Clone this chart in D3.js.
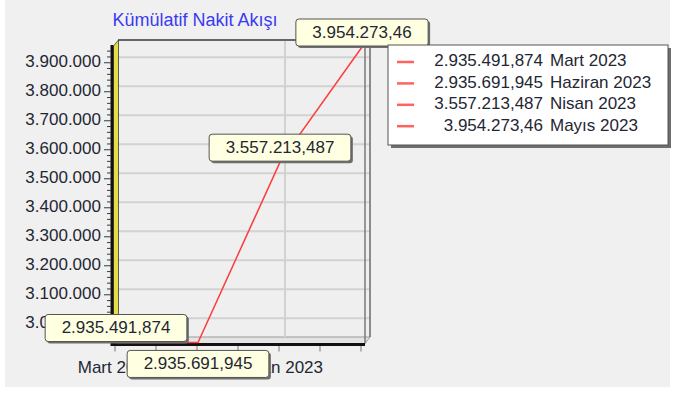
<!DOCTYPE html>
<html>
<head>
<meta charset="utf-8">
<script src="https://cdn.jsdelivr.net/npm/d3@7"></script>
<style>
  html, body { margin: 0; padding: 0; background: #ffffff; }
  svg { display: block; font-family: "Liberation Sans", Arial, sans-serif; }
</style>
</head>
<body>
<svg id="chart" width="674" height="394"></svg>
<script>
// Cumulative cash flow by month
const title = "Kümülatif Nakit Akışı";
const categories = ["Mart 2023", "Haziran 2023", "Nisan 2023", "Mayıs 2023"];
const values = [2935491.874, 2935691.945, 3557213.487, 3954273.46];
const yTicks = [3000000, 3100000, 3200000, 3300000, 3400000, 3500000, 3600000, 3700000, 3800000, 3900000];

// Turkish number formatting: "." for thousands, "," for decimals
const tr = d3.formatLocale({ decimal: ",", thousands: ".", grouping: [3], currency: ["", " ₺"] });
const fmtValue = tr.format(",.3~f");
const fmtTick = tr.format(",.0f");

const svg = d3.select("#chart");
const FONT = 17;
const TEXT = "#1f2733";
const LINE = "#ff3b3b";

// 3D depth offset of the back wall relative to the front plane
const DX = 5, DY = -5.5;

// front-plane scales
const x = d3.scalePoint().domain(categories).range([116, 362]);
const y = d3.scaleLinear().domain(d3.extent(values)).range([342.5, 47]);

const frontL = x.range()[0] - 3, frontR = x.range()[1] + 3;
const frontB = y.range()[0], frontT = y.range()[1];
const backL = frontL + DX, backR = frontR + DX;
const backT = frontT + DY - 1.5, backB = frontB + DY;

// panel background
svg.append("rect").attr("x", 5).attr("y", 0).attr("width", 665).attr("height", 387).attr("fill", "#f0f0f0");

// back wall
svg.append("rect").attr("x", backL).attr("y", backT).attr("width", backR - backL).attr("height", backB - backT)
  .attr("fill", "#efefef");

// floor
svg.append("polygon")
  .attr("points", [[frontL, frontB + 1], [backL, backB], [backR, backB], [frontR, frontB + 1]].join(" "))
  .attr("fill", "#e4e4e4").attr("stroke", "#9a9a9a").attr("stroke-width", 1);

// horizontal grid on back wall
svg.append("g").selectAll("line").data(yTicks).join("line")
  .attr("x1", backL).attr("x2", backR)
  .attr("y1", d => y(d) + DY).attr("y2", d => y(d) + DY)
  .attr("stroke", "#d2d2d2").attr("stroke-width", 2);

// x labels: skip labels that would overlap the previous visible one
const xLabelG = svg.append("g");
const shown = [];
let lastRight = -Infinity;
categories.forEach(c => {
  const t = xLabelG.append("text").text(c)
    .attr("x", x(c)).attr("y", 369).attr("text-anchor", "middle").attr("dominant-baseline", "middle")
    .attr("font-size", FONT).attr("fill", TEXT);
  const w = t.node().getComputedTextLength();
  if (x(c) - w / 2 < lastRight + 4) { t.remove(); return; }
  lastRight = x(c) + w / 2;
  shown.push(c);
});

// vertical grid on back wall at the visible labels
svg.append("g").selectAll("line").data(shown.filter((c, i) => i > 0)).join("line")
  .attr("x1", d => x(d) + DX).attr("x2", d => x(d) + DX)
  .attr("y1", backT).attr("y2", backB)
  .attr("stroke", "#d2d2d2").attr("stroke-width", 2);

// back wall frame: top and right edge, plus the front-right edge
svg.append("line").attr("x1", backL).attr("x2", backR).attr("y1", backT).attr("y2", backT)
  .attr("stroke", "#666").attr("stroke-width", 2);
svg.append("line").attr("x1", backR).attr("x2", backR).attr("y1", backT).attr("y2", backB)
  .attr("stroke", "#6a6a6a").attr("stroke-width", 1.5);
svg.append("line").attr("x1", frontR).attr("x2", frontR).attr("y1", frontT).attr("y2", frontB + 1)
  .attr("stroke", "#7a7a7a").attr("stroke-width", 1.5);
svg.append("line").attr("x1", frontR).attr("x2", backR).attr("y1", frontT).attr("y2", backT)
  .attr("stroke", "#7a7a7a").attr("stroke-width", 1.5);

// left wall (yellow side face with dark axis edge)
svg.append("polygon")
  .attr("points", [[frontL + 0.5, frontT - 1], [backL + 0.5, backT], [backL + 0.5, backB], [frontL + 0.5, frontB + 1]].join(" "))
  .attr("fill", "#e6dc45").attr("stroke", "#3a3a3a").attr("stroke-width", 0.8);
svg.append("line").attr("x1", frontL - 1).attr("x2", frontL - 1).attr("y1", frontT - 2).attr("y2", frontB + 3.5)
  .attr("stroke", "#111").attr("stroke-width", 3);

// floor front edge
svg.append("line").attr("x1", frontL - 2).attr("x2", frontR).attr("y1", frontB + 2).attr("y2", frontB + 2)
  .attr("stroke", "#111").attr("stroke-width", 3);

// y axis ticks (major + minor)
const minor = [];
yTicks.forEach(v => { for (let k = 1; k < 5; k++) { const m = v + k * 20000; if (m <= y.domain()[1]) minor.push(m); } });
minor.unshift(...[1, 2, 3].map(k => yTicks[0] - k * 20000).filter(m => m >= y.domain()[0]));
const yTickG = svg.append("g").attr("stroke", "#3a3a3a").attr("stroke-width", 1);
yTickG.selectAll(".maj").data(yTicks).join("line").attr("class", "maj")
  .attr("x1", frontL - 9).attr("x2", frontL - 2).attr("y1", d => y(d)).attr("y2", d => y(d));
yTickG.selectAll(".min").data(minor).join("line").attr("class", "min")
  .attr("x1", frontL - 6).attr("x2", frontL - 2).attr("y1", d => y(d)).attr("y2", d => y(d));

// y axis labels
svg.append("g").selectAll("text").data(yTicks).join("text")
  .attr("x", frontL - 12).attr("y", d => y(d)).attr("text-anchor", "end").attr("dominant-baseline", "middle")
  .attr("font-size", FONT).attr("fill", TEXT).text(d => fmtTick(d));

// x axis ticks at half-category steps
const halfStep = x.step() / 2;
const xTickPos = d3.range(0, (categories.length - 1) * 2 + 1).map(k => x.range()[0] + k * halfStep);
svg.append("g").selectAll("line").data(xTickPos).join("line")
  .attr("x1", d => d - 1).attr("x2", d => d - 1).attr("y1", frontB + 3.5).attr("y2", frontB + 9)
  .attr("stroke", "#777").attr("stroke-width", 1);

// keep x labels above ticks
xLabelG.raise();

// series line
const pts = categories.map((c, i) => [x(c), y(values[i])]);
svg.append("path").attr("d", d3.line()(pts)).attr("fill", "none").attr("stroke", LINE).attr("stroke-width", 1.5);

// value marks, moved below the point when they would collide with the previous mark
const markG = svg.append("g");
const placed = [];
categories.forEach((c, i) => {
  const g = markG.append("g");
  const t = g.append("text").text(fmtValue(values[i])).attr("font-size", FONT).attr("fill", TEXT)
    .attr("text-anchor", "middle").attr("dominant-baseline", "middle");
  const w = t.node().getComputedTextLength() + 33, h = 27;
  const px = x(c), py = y(values[i]);
  let box = { x: px - w / 2, y: py - 1 - h, w, h };
  const hit = b => placed.some(p => b.x < p.x + p.w && b.x + b.w > p.x && b.y < p.y + p.h && b.y + b.h > p.y);
  if (hit(box)) box = { x: px - w / 2, y: py + 8, w, h };
  placed.push(box);
  g.insert("rect", "text").attr("x", box.x + 2).attr("y", box.y + 2).attr("width", w).attr("height", h)
    .attr("rx", 3).attr("fill", "#6e6e6e");
  g.insert("rect", "text").attr("x", box.x).attr("y", box.y).attr("width", w).attr("height", h)
    .attr("rx", 3).attr("fill", "#ffffe1").attr("stroke", "#555").attr("stroke-width", 1);
  t.attr("x", box.x + w / 2).attr("y", box.y + h / 2 + 1);
});

// legend
const lg = { x: 388, y: 45, w: 280, h: 100 };
const legend = svg.append("g");
legend.append("rect").attr("x", lg.x + 3).attr("y", lg.y + 3).attr("width", lg.w).attr("height", lg.h).attr("fill", "#6e6e6e");
legend.append("rect").attr("x", lg.x).attr("y", lg.y).attr("width", lg.w).attr("height", lg.h)
  .attr("fill", "#ffffff").attr("stroke", "#555").attr("stroke-width", 1);
const rows = legend.selectAll("g.row").data(categories).join("g").attr("class", "row")
  .attr("transform", (d, i) => `translate(0,${lg.y + 17 + i * 21.4})`);
rows.append("line").attr("x1", lg.x + 9).attr("x2", lg.x + 26).attr("y1", 0).attr("y2", 0)
  .attr("stroke", "#ff6262").attr("stroke-width", 2.5);
rows.append("text").attr("x", lg.x + 155).attr("y", 0).attr("text-anchor", "end").attr("dominant-baseline", "middle")
  .attr("font-size", FONT).attr("fill", TEXT).text((d, i) => fmtValue(values[i]));
rows.append("text").attr("x", lg.x + 162).attr("y", 0).attr("dominant-baseline", "middle")
  .attr("font-size", FONT).attr("fill", TEXT).text(d => d);

// title
svg.append("text").attr("x", 195).attr("y", 21).attr("text-anchor", "middle").attr("dominant-baseline", "middle")
  .attr("font-size", 18).attr("fill", "#3a3af2").text(title);
</script>
</body>
</html>
